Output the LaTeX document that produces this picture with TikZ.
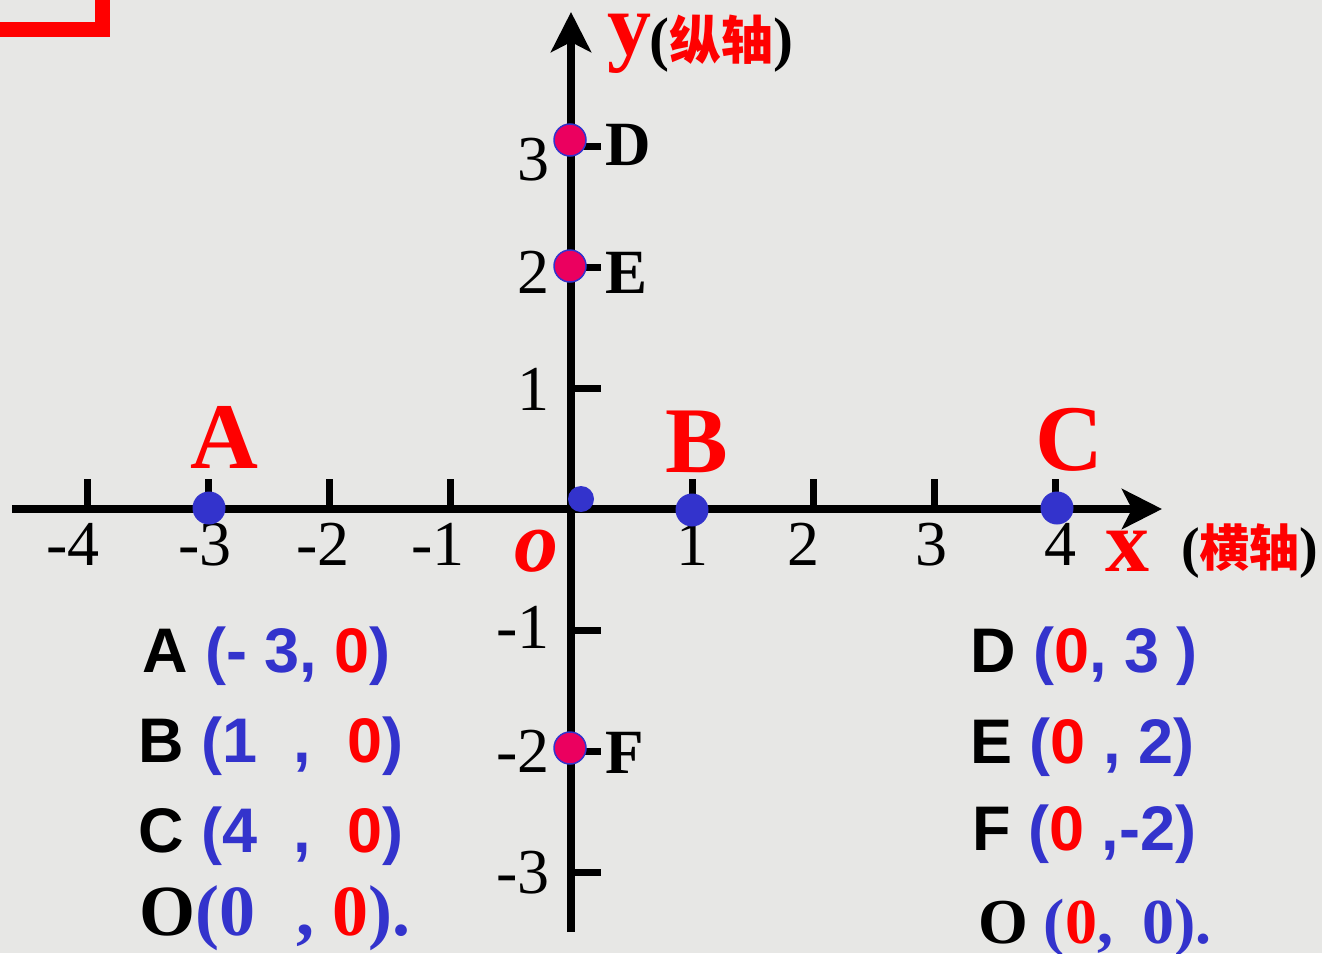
\documentclass[tikz,border=0pt]{standalone}
\usepackage{fontspec}
\setmainfont{Liberation Serif}
\newfontfamily\arialfont{Liberation Sans}
\newfontfamily\cjk{Noto Sans CJK SC}
\usepackage{tikz}
\usetikzlibrary{arrows.meta}
\definecolor{bggray}{RGB}{231,231,229}
\definecolor{dotblue}{RGB}{51,51,204}
\definecolor{dotpink}{RGB}{235,0,95}
\definecolor{textblue}{RGB}{51,51,204}
\tikzset{
    axisline/.style={line width=8pt, -{Stealth[length=40pt, width=40pt, inset=10pt]}},
    tickmark/.style={line width=7pt},
    bluedot/.style={circle, fill=dotblue, inner sep=0pt, minimum size=33pt},
    pinkdot/.style={circle, fill=dotpink, draw=dotblue, line width=1.5pt, inner sep=0pt, minimum size=32pt},
    numlabel/.style={inner sep=0pt, font=\fontsize{64}{64}\selectfont},
    axisname/.style={inner sep=0pt, anchor=base, text=red, font=\fontsize{88}{88}\selectfont\bfseries},
    pointname/.style={inner sep=0pt, anchor=base west, font=\fontsize{63}{63}\selectfont\bfseries},
    bigname/.style={inner sep=0pt, anchor=base, text=red, font=\fontsize{94}{94}\selectfont\bfseries},
    coordtext/.style={inner sep=0pt, anchor=base west, font=\fontsize{63}{63}\selectfont\arialfont\bfseries},
    coordserif/.style={inner sep=0pt, anchor=base west, font=\fontsize{#1}{#1}\selectfont\bfseries}
}

\begin{document}
\begin{tikzpicture}[x=1pt, y=-1pt]
    \useasboundingbox (0,0) rectangle (1322,953);
    \fill[bggray] (0,0) rectangle (1322,953);
    % corner mark
    \draw[red, line width=15pt] (0,29.5) -- (102.5,29.5) -- (102.5,0);

    % axes
    \coordinate (xstart) at (12,509);
    \coordinate (xend) at (1162,509);
    \coordinate (ystart) at (571,932);
    \coordinate (yend) at (571,12);
    \draw[axisline] (xstart) -- (xend);
    \draw[axisline] (ystart) -- (yend);

    % ticks
    \foreach \i in {-4,-3,-2,-1,1,2,3,4}
        \draw[tickmark] (571+121*\i,509) -- ++(0,-30);
    \foreach \j in {-3,-2,-1,1,2,3}
        \draw[tickmark] (571,509-121*\j) -- ++(30,0);

    % tick numbers
    \foreach \px/\lab [count=\k] in {73/-4, 205/-3, 323/-2, 438/-1, 692/1, 803/2, 931/3, 1060/4}
        \node[numlabel, anchor=base] (xnum\k) at (\px,565) {\lab};
    \foreach \py/\lab [count=\k] in {180/3, 293/2, 410/1, 648/-1, 772/-2, 893/-3}
        \node[numlabel, anchor=base east] (ynum\k) at (550,\py) {\lab};

    % axis names
    \node[axisname, font=\fontsize{88}{88}\selectfont\bfseries\itshape] (onum) at (536,571) {o};
    \node[axisname] (xname) at (1127,571) {x};
    \node[axisname, anchor=base west] (yname) at (607,54) {y};
    \node[inner sep=0pt, anchor=base west, font=\fontsize{60}{60}\selectfont\bfseries] (ycn) at (649,59)
        {({\cjk\fontsize{52}{52}\selectfont\color{red}纵轴})};
    \node[inner sep=0pt, anchor=base west, font=\fontsize{56}{56}\selectfont\bfseries] (xcn) at (1181,566)
        {({\cjk\fontsize{50}{50}\selectfont\color{red}横轴})};

    % points
    \node[bluedot] (A) at (209,508) {};
    \node[bluedot] (B) at (692,510) {};
    \node[bluedot] (C) at (1057,508) {};
    \node[bluedot, minimum size=26pt] (O) at (581,499) {};
    \node[pinkdot] (D) at (570,140) {};
    \node[pinkdot] (E) at (570,266) {};
    \node[pinkdot] (F) at (570,748) {};

    \node[bigname] (Aname) at (224,468) {A};
    \node[bigname] (Bname) at (697,472) {B};
    \node[bigname] (Cname) at (1069,470) {C};
    \node[pointname] (Dname) at (605,165) {D};
    \node[pointname] (Ename) at (605,293) {E};
    \node[pointname] (Fname) at (605,773) {F};

    % coordinates of the points
    \node[coordtext] (Acoord) at (142,672)
        {A {\color{textblue}(- 3,} {\color{red}0}{\color{textblue})}};
    \node[coordtext] (Bcoord) at (138,762)
        {B {\color{textblue}(1\hspace{36pt},}\hspace{37pt}{\color{red}0}{\color{textblue})}};
    \node[coordtext] (Ccoord) at (138,852)
        {C {\color{textblue}(4\hspace{36pt},}\hspace{37pt}{\color{red}0}{\color{textblue})}};
    \node[coordserif=72] (Ocoord) at (139,935)
        {O{\color{textblue}(0\hspace{41pt},} {\color{red}0}{\color{textblue}).}};
    \node[coordtext] (Dcoord) at (970,672)
        {D {\color{textblue}(}{\color{red}0}{\color{textblue}, 3 )}};
    \node[coordtext] (Ecoord) at (970,763)
        {E {\color{textblue}(}{\color{red}0} {\color{textblue}, 2)}};
    \node[coordtext] (Fcoord) at (972,850)
        {F {\color{textblue}(}{\color{red}0} {\color{textblue},-2)}};
    \node[coordserif=64] (Ocoord2) at (978,943)
        {O {\color{textblue}(}{\color{red}0}{\color{textblue},\hspace{29pt}0).}};
\end{tikzpicture}
\end{document}
